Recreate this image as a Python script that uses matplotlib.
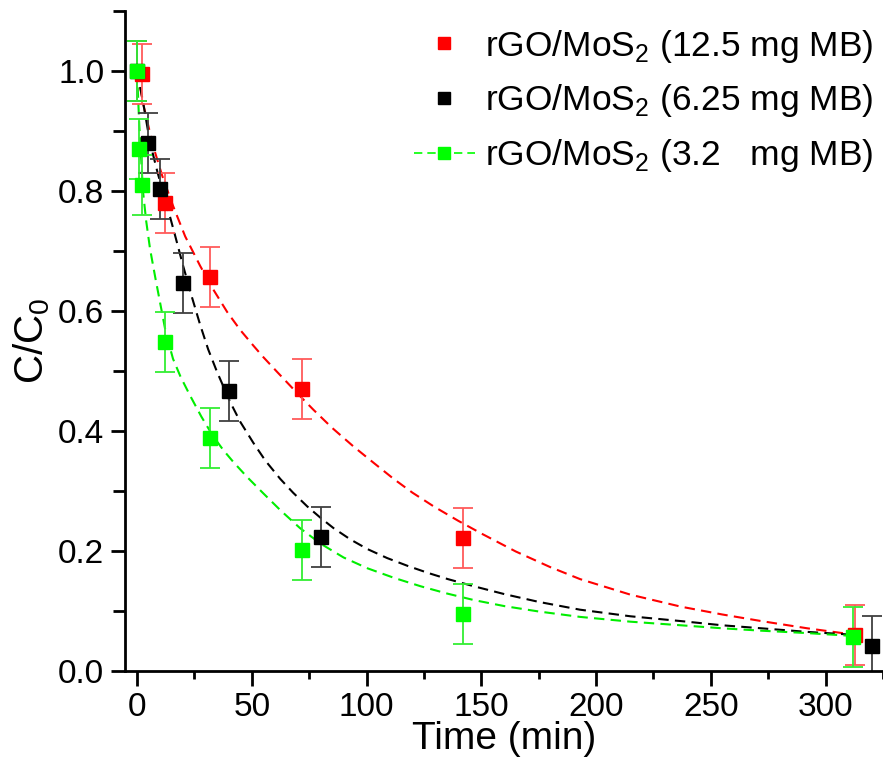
import numpy as np
import matplotlib.pyplot as plt
from matplotlib.lines import Line2D
from matplotlib.ticker import MultipleLocator

plt.rcParams['font.family'] = ['Liberation Sans', 'DejaVu Sans']
plt.rcParams['mathtext.fontset'] = 'custom'
plt.rcParams['mathtext.rm'] = 'Liberation Sans'

# --- Datos medidos (C/C0 vs tiempo) ---
t_red = [2, 12, 32, 72, 142, 313]
c_red = [0.995, 0.78, 0.657, 0.47, 0.222, 0.06]
t_blk = [0, 5, 10, 20, 40, 80, 320]
c_blk = [1.0, 0.88, 0.803, 0.647, 0.466, 0.223, 0.042]
t_grn = [0, 1, 2, 12, 32, 72, 142, 312]
c_grn = [1.0, 0.87, 0.81, 0.548, 0.388, 0.202, 0.094, 0.057]
err = 0.05

# --- Curvas de ajuste ---
fit_t_red = [0, 3, 7, 11, 15.7, 21, 27.5, 33, 39.3, 45, 50.7, 55, 61.1, 70, 76.9,
             85, 94.3, 103, 111.8, 120, 129.3, 140, 150, 165, 180, 193, 215, 237,
             255, 272, 292, 313]
fit_c_red = [1.0, 0.94, 0.875, 0.825, 0.775, 0.724, 0.675, 0.637, 0.598, 0.568,
             0.542, 0.523, 0.498, 0.462, 0.435, 0.405, 0.374, 0.347, 0.32, 0.297,
             0.274, 0.25, 0.229, 0.199, 0.173, 0.153, 0.127, 0.107, 0.094, 0.083,
             0.071, 0.06]
fit_t_blk = [0, 1.3, 3, 5.7, 9, 13.1, 16.5, 20.1, 24, 27.5, 31, 34.9, 40.6, 45,
             50.7, 56, 62.4, 68, 74.2, 80, 85.6, 93, 100.4, 109, 117.9, 127, 135.4,
             146.8, 160, 175, 193, 215, 237, 255, 272, 292, 313]
fit_c_blk = [1.0, 0.975, 0.94, 0.88, 0.83, 0.775, 0.727, 0.675, 0.622, 0.577,
             0.536, 0.498, 0.448, 0.415, 0.38, 0.35, 0.32, 0.297, 0.274, 0.255,
             0.238, 0.219, 0.203, 0.188, 0.175, 0.163, 0.153, 0.141, 0.128, 0.115,
             0.102, 0.091, 0.083, 0.076, 0.071, 0.065, 0.06]
fit_t_grn = [0, 1, 2.6, 4, 5.7, 8, 10, 12.5, 15.7, 19, 23.1, 28, 33, 37.6, 42, 48,
             55, 62.4, 71, 80, 90, 100.4, 112, 123.6, 135, 146.8, 160, 175, 193,
             215, 237, 255, 272, 292, 313]
fit_c_grn = [1.0, 0.91, 0.80, 0.75, 0.703, 0.655, 0.615, 0.565, 0.52, 0.49, 0.459,
             0.424, 0.392, 0.368, 0.348, 0.323, 0.296, 0.268, 0.238, 0.212, 0.189,
             0.171, 0.155, 0.141, 0.129, 0.118, 0.108, 0.099, 0.09, 0.082, 0.076,
             0.071, 0.067, 0.063, 0.058]

labels = ['rGO/MoS$_{\\mathregular{2}}$ (12.5 mg MB)',
          'rGO/MoS$_{\\mathregular{2}}$ (6.25 mg MB)',
          'rGO/MoS$_{\\mathregular{2}}$ (3.2   mg MB)']

fig = plt.figure(figsize=(8.83, 7.65), dpi=100)
ax = fig.add_axes([0.1416, 0.123, 0.8584, 0.863])

dash = (5, 3)
ax.plot(fit_t_red, fit_c_red, color='red', lw=1.5, dashes=dash)
ax.plot(fit_t_blk, fit_c_blk, color='black', lw=1.5, dashes=dash)
ax.plot(fit_t_grn, fit_c_grn, color='#00ee00', lw=1.5, dashes=dash)

series = [(t_red, c_red, 'red', '#ff5a5a'),
          (t_blk, c_blk, 'black', '#404040'),
          (t_grn, c_grn, '#00ff00', '#33ee33')]
for t, c, col, ecol in series:
    ax.errorbar(t, c, yerr=err, fmt='s', color=col, ecolor=ecol, ms=10.5,
                elinewidth=1.3, capsize=7, capthick=1.3, mec=col)

handles = [Line2D([], [], ls='none', marker='s', color='red', ms=9),
           Line2D([], [], ls='none', marker='s', color='black', ms=9),
           Line2D([], [], ls='--', dashes=dash, marker='s', color='#00ff00', ms=9, lw=1.2)]
ax.legend(handles, labels, loc='upper right', bbox_to_anchor=(0.997, 0.985),
          frameon=False, fontsize=25.5, handlelength=1.7, labelspacing=0.5,
          borderaxespad=0, borderpad=0.2, handletextpad=0.3)

ax.set_xlim(-5.2, 325)
ax.set_ylim(0, 1.1)
ax.xaxis.set_major_locator(MultipleLocator(50))
ax.xaxis.set_minor_locator(MultipleLocator(25))
ax.yaxis.set_major_locator(MultipleLocator(0.2))
ax.yaxis.set_minor_locator(MultipleLocator(0.1))
ax.yaxis.set_major_formatter(plt.FormatStrFormatter('%.1f'))

for s in ['top', 'right']:
    ax.spines[s].set_visible(False)
for s in ['left', 'bottom']:
    ax.spines[s].set_linewidth(2)
ax.tick_params(which='major', direction='out', length=11, width=2, labelsize=24, pad=4)
ax.tick_params(axis='y', which='major', length=10, pad=5)
ax.tick_params(axis='x', which='minor', direction='out', length=6, width=2)
ax.tick_params(axis='y', which='minor', direction='out', length=9, width=2)

ax.set_xlabel('Time (min)', fontsize=28, labelpad=-1)
ax.set_ylabel('C/C$_{\\mathregular{0}}$', fontsize=29, labelpad=4)

fig.savefig('out.png', dpi=100)
